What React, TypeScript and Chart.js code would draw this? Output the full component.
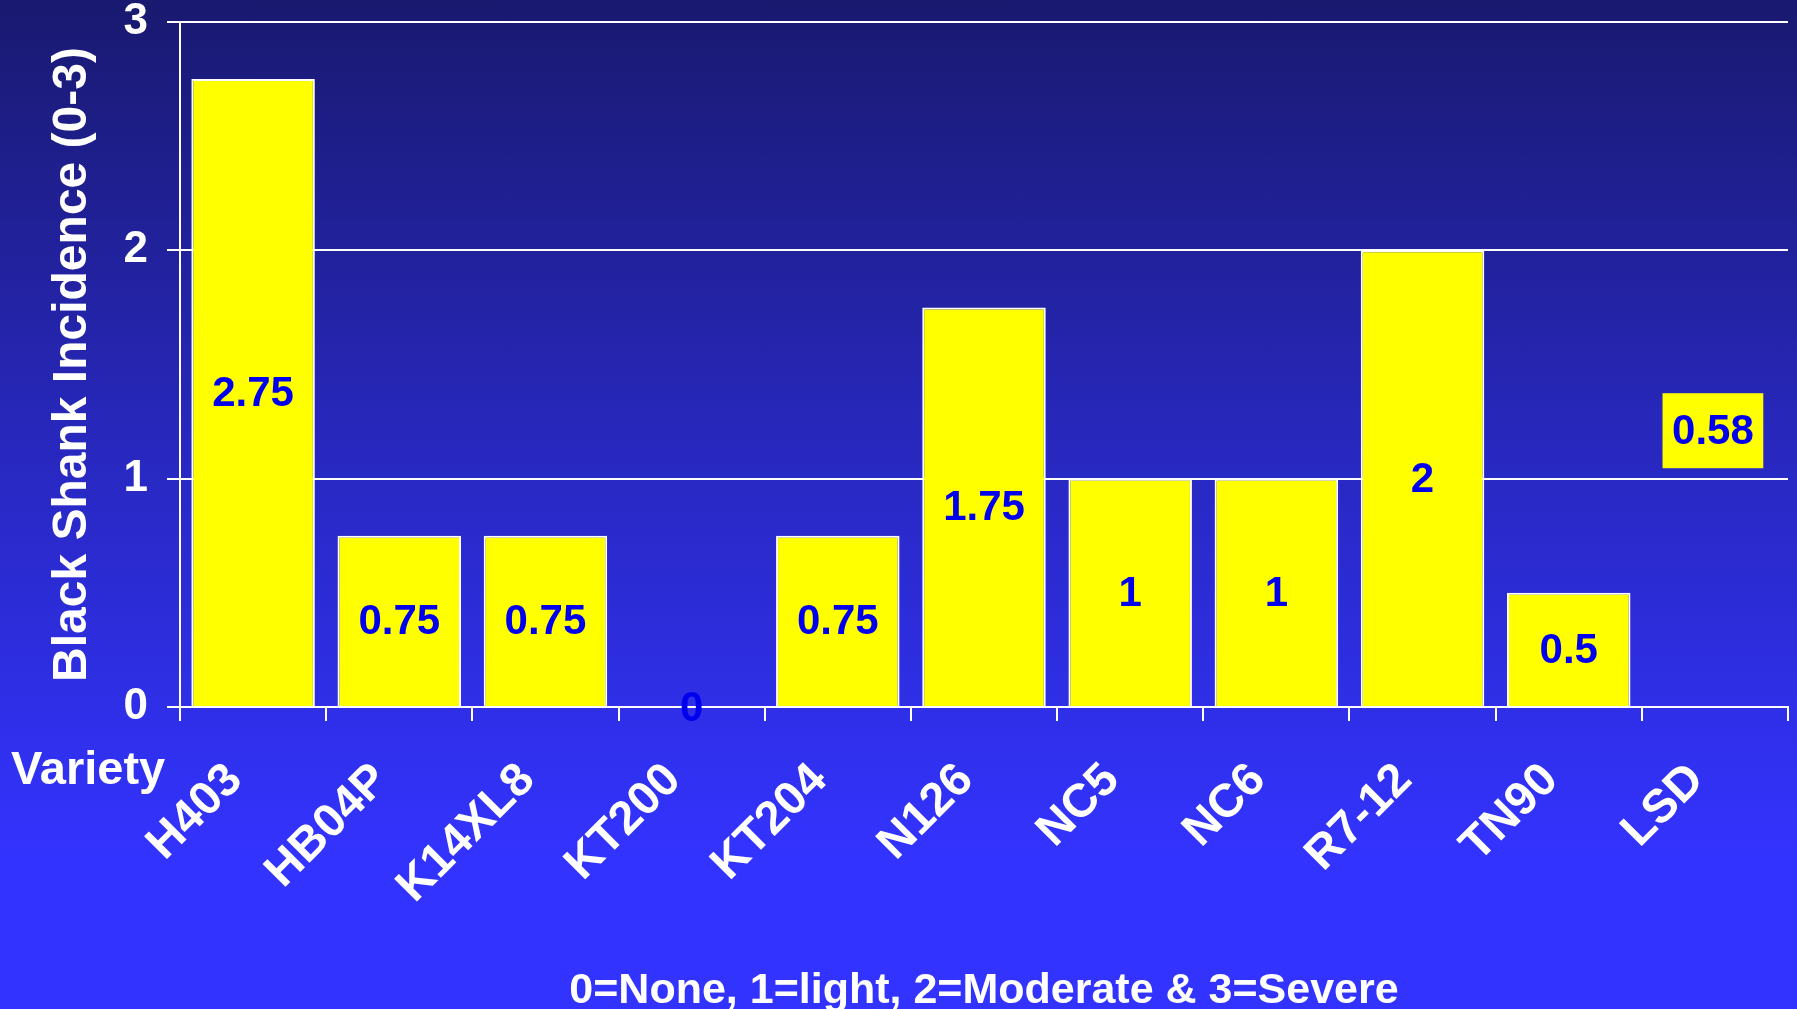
import React, { useEffect, useRef } from "react";
import { Chart, registerables } from "chart.js";

Chart.register(...registerables);

const categories = ["H403", "HB04P", "K14XL8", "KT200", "KT204", "N126", "NC5", "NC6", "R7-12", "TN90", "LSD"];
const incidence = [2.75, 0.75, 0.75, 0, 0.75, 1.75, 1, 1, 2, 0.5, 0.58];
const valueLabels = ["2.75", "0.75", "0.75", "0", "0.75", "1.75", "1", "1", "2", "0.5", "0.58"];
const yTicks = [0, 1, 2, 3];
const LSD_INDEX = 10;
const LSD_LABEL_Y = 1.21;

const FONT = 'Arial, "Liberation Sans", Helvetica, sans-serif';
const YELLOW = "#ffff00";
const LABEL_BLUE = "#0000ee";

const labelPlugin = {
  id: "valueLabels",
  afterDraw(chart: any) {
    const ctx = chart.ctx;
    const meta = chart.getDatasetMeta(0);
    const yScale = chart.scales.y;
    ctx.save();
    ctx.font = `bold 42px ${FONT}`;
    ctx.textAlign = "center";
    ctx.textBaseline = "middle";
    meta.data.forEach((bar: any, i: number) => {
      const text = valueLabels[i];
      if (i === LSD_INDEX) {
        const cy = yScale.getPixelForValue(LSD_LABEL_Y);
        const w = ctx.measureText(text).width + 19;
        const h = 75;
        ctx.fillStyle = YELLOW;
        ctx.fillRect(bar.x - w / 2 - 2, cy - h / 2, w, h);
        ctx.fillStyle = LABEL_BLUE;
        ctx.fillText(text, bar.x - 2, cy + 2);
      } else {
        const cy = (bar.y + bar.base) / 2;
        ctx.fillStyle = LABEL_BLUE;
        ctx.fillText(text, bar.x, cy + 2);
      }
    });
    // "Variety" caption at left of category labels
    ctx.fillStyle = "#ffffff";
    ctx.font = `bold 47px ${FONT}`;
    ctx.textAlign = "left";
    ctx.textBaseline = "middle";
    ctx.fillText("Variety", 11, chart.chartArea.bottom + 64);
    ctx.restore();
  },
};

export default function App() {
  const ref = useRef<HTMLCanvasElement | null>(null);

  useEffect(() => {
    document.body.style.margin = "0";
    document.body.style.overflow = "hidden";
    const canvas = ref.current!;
    const chart = new Chart(canvas, {
      type: "bar",
      data: {
        labels: categories,
        datasets: [
          {
            data: incidence,
            backgroundColor: categories.map((_, i) => (i === LSD_INDEX ? "rgba(0,0,0,0)" : YELLOW)),
            borderColor: categories.map((_, i) => (i === LSD_INDEX ? "rgba(0,0,0,0)" : "#ffffff")),
            borderWidth: categories.map((_, i) => (i === LSD_INDEX ? 0 : 2)),
            barPercentage: 0.845,
            categoryPercentage: 1,
          },
        ],
      },
      options: {
        responsive: false,
        animation: false,
        events: [],
        layout: { padding: { top: 22, right: 9, left: 0, bottom: 0 } },
        plugins: { legend: { display: false }, tooltip: { enabled: false } },
        scales: {
          x: {
            offset: true,
            grid: {
              display: true,
              drawOnChartArea: false,
              drawTicks: true,
              tickLength: 14,
              offset: true,
              color: "#ffffff",
              lineWidth: 2,
            },
            border: { display: true, color: "#ffffff", width: 2 },
            ticks: {
              color: "#ffffff",
              font: { family: FONT, size: 47, weight: "bold", lineHeight: 1 },
              minRotation: 45,
              maxRotation: 45,
              autoSkip: false,
              padding: 35,
              labelOffset: -18,
            },
            title: {
              display: true,
              text: "0=None, 1=light, 2=Moderate & 3=Severe",
              color: "#ffffff",
              font: { family: FONT, size: 43, weight: "bold", lineHeight: 1 },
              padding: { top: 0, bottom: -4 },
            },
            afterFit: (scale: any) => {
              scale.height = 302;
            },
          },
          y: {
            min: 0,
            max: 3,
            afterBuildTicks: (scale: any) => {
              scale.ticks = yTicks.map((v) => ({ value: v }));
            },
            grid: {
              color: "#ffffff",
              lineWidth: 2,
              tickLength: 13,
              drawTicks: true,
            },
            border: { display: true, color: "#ffffff", width: 2 },
            ticks: {
              color: "#ffffff",
              font: { family: FONT, size: 44, weight: "bold", lineHeight: 1 },
              padding: 19,
            },
            title: {
              display: true,
              text: "Black Shank Incidence (0-3)",
              color: "#ffffff",
              font: { family: FONT, size: 48, weight: "bold", lineHeight: 1 },
              padding: { top: 49, bottom: 0 },
            },
            afterFit: (scale: any) => {
              scale.width = 180;
              scale.paddingTop = 0;
              scale.paddingBottom = 0;
            },
          },
        },
      },
      plugins: [labelPlugin],
    });
    return () => chart.destroy();
  }, []);

  return (
    <div
      style={{
        position: "fixed",
        left: 0,
        top: 0,
        width: 1797,
        height: 1009,
        background: "linear-gradient(180deg, #191970 0%, #2828c0 45%, #3333ff 85%, #3333ff 100%)",
      }}
    >
      <canvas ref={ref} width={1797} height={1009} style={{ display: "block" }} />
    </div>
  );
}
